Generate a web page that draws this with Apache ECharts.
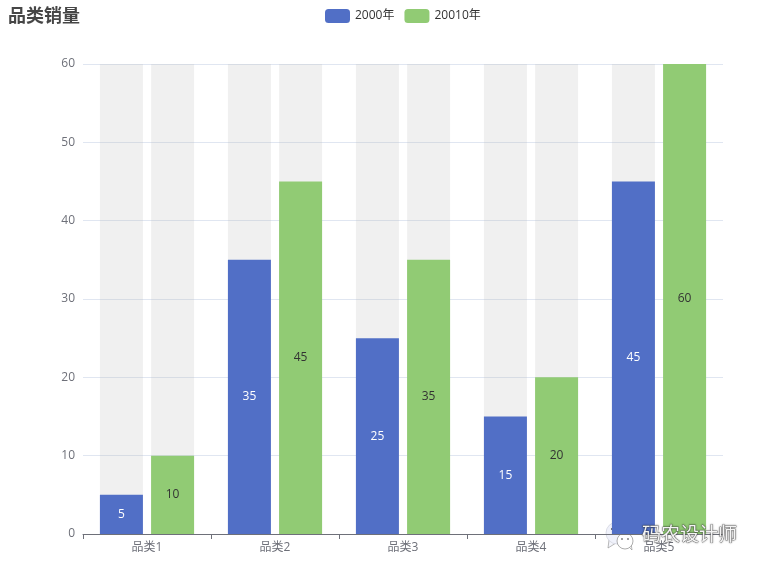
<!DOCTYPE html>
<html><head><meta charset="utf-8">
<style>html,body{margin:0;padding:0;background:#fff}#c{width:761px;height:570px}</style>
<script src="https://cdn.jsdelivr.net/npm/echarts@6/dist/echarts.min.js"></script>
</head><body><div id="c"></div>
<script>
const categories = ['品类1','品类2','品类3','品类4','品类5'];
const series2000 = [5,35,25,15,45];
const series20010 = [10,45,35,20,60];
const seriesNames = ['2000年','20010年'];
const FONT = '"Open Sans","Noto Sans CJK SC",sans-serif';
const chart = echarts.init(document.getElementById('c'), null, {renderer:'canvas'});
chart.setOption({
  animation:false,
  textStyle:{fontFamily:FONT},
  title:{text:'品类销量',left:3,top:3,textStyle:{fontSize:18,fontWeight:'bold',color:'#464646',fontFamily:FONT}},
  legend:{data:seriesNames,top:4,left:320,itemWidth:25,itemHeight:14,itemGap:10,
    textStyle:{fontSize:12,color:'#333',fontFamily:FONT}},
  grid:{left:83,right:38,top:64,bottom:36},
  xAxis:{type:'category',data:categories,
    axisLine:{lineStyle:{color:'#6E7079'}},axisTick:{show:true,alignWithLabel:false,lineStyle:{color:'#6E7079'}},
    axisLabel:{color:'#6E7079',fontSize:12,margin:8},splitLine:{show:false}},
  yAxis:{type:'value',min:0,max:60,interval:10,
    axisLine:{show:false},axisTick:{show:false},
    axisLabel:{color:'#6E7079',fontSize:12,margin:8,padding:[0,0,2,0]},
    splitLine:{lineStyle:{color:'#E0E6F1'}}},
  series:[
    {name:seriesNames[0],type:'bar',data:series2000,barWidth:43,barGap:'19%',
     showBackground:true,backgroundStyle:{color:'rgba(180,180,180,0.2)'},
     itemStyle:{color:'#516FC6'},label:{show:true,position:'inside',color:'#fff',fontSize:12}},
    {name:seriesNames[1],type:'bar',data:series20010,barWidth:43,
     showBackground:true,backgroundStyle:{color:'rgba(180,180,180,0.2)'},
     itemStyle:{color:'#91CB74'},label:{show:true,position:'inside',color:'#333',fontSize:12}}
  ],
  graphic:[
    {type:'group',x:605,y:523,z:100,children:[
      {type:'polygon',shape:{points:[[4,17],[3,25],[11,20]]},style:{fill:'#f4f5fb',stroke:'#8a8a8a',lineWidth:0.6}},
      {type:'circle',shape:{cx:12,cy:10,r:11},style:{fill:'#f0f2fb',stroke:'#c9cbd6',lineWidth:0.6}},
      {type:'polygon',shape:{points:[[22,22],[27,27],[26,20]]},style:{fill:'#fff',stroke:'#8a8a8a',lineWidth:0.6}},
      {type:'circle',shape:{cx:20,cy:18,r:8},style:{fill:'#ffffff',stroke:'#8a8a8a',lineWidth:0.7}},
      {type:'circle',shape:{cx:7,cy:6,r:1.1},style:{fill:'#555'}},
      {type:'circle',shape:{cx:15,cy:6,r:1.1},style:{fill:'#555'}},
      {type:'circle',shape:{cx:17,cy:16,r:0.9},style:{fill:'#777'}},
      {type:'circle',shape:{cx:23,cy:16,r:0.9},style:{fill:'#777'}}
    ]},
    {type:'text',x:642,y:526,z:100,style:{text:'码农设计师',fill:'#f4f4f4',stroke:'#555',lineWidth:0.5,
      font:'19px '+FONT,textShadowColor:'rgba(0,0,0,0.45)',textShadowBlur:2}}
  ]
});
</script></body></html>
